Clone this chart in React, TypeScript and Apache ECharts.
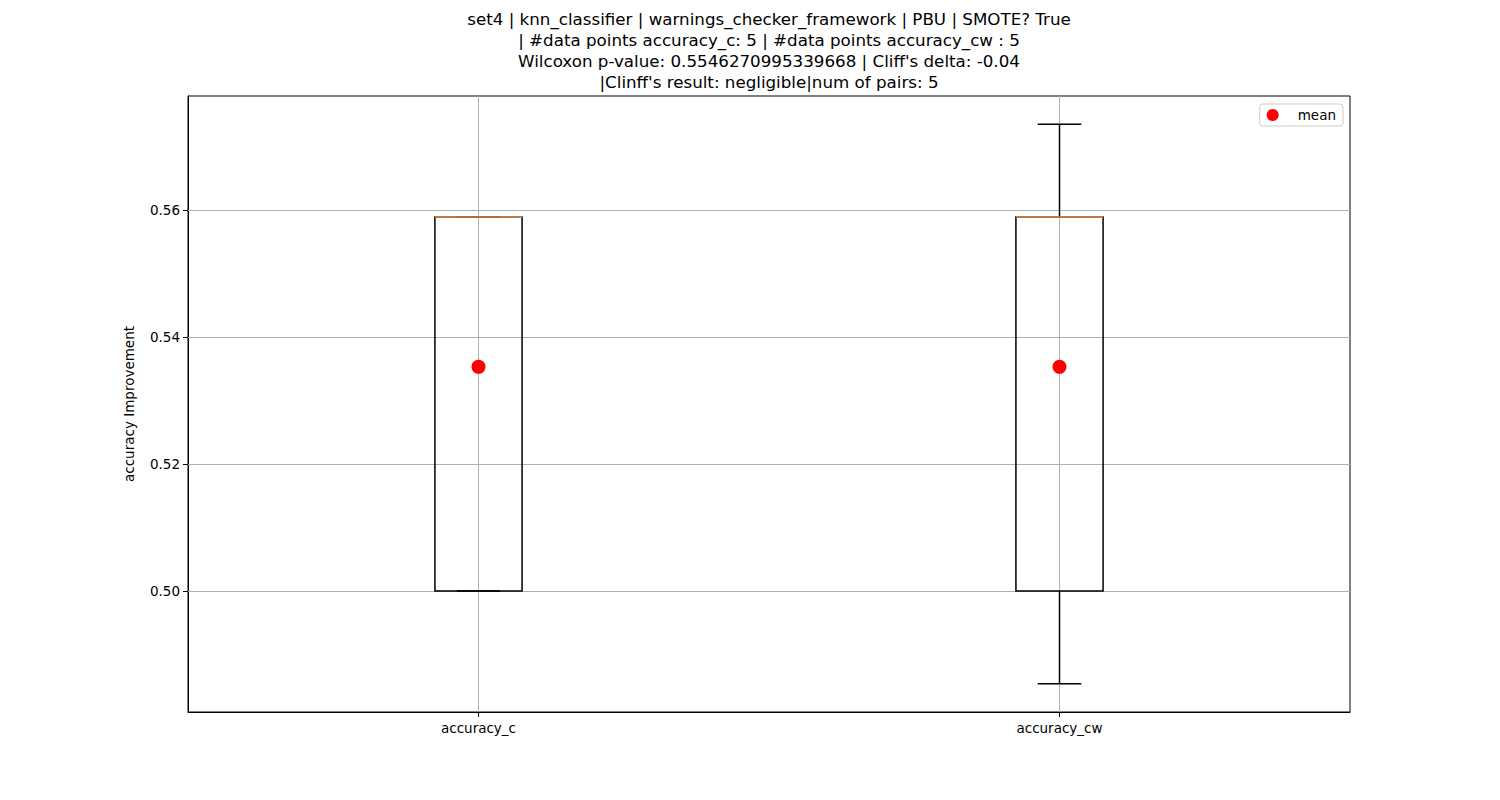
import React, { useEffect, useRef } from "react";
import * as echarts from "echarts";

const titleLines = [
  "set4 | knn_classifier | warnings_checker_framework | PBU | SMOTE? True",
  "| #data points accuracy_c: 5 | #data points accuracy_cw : 5",
  "Wilcoxon p-value: 0.5546270995339668 | Cliff's delta: -0.04",
  "|Clinff's result: negligible|num of pairs: 5",
];
const categories = ["accuracy_c", "accuracy_cw"];
const categoryPos = [1, 2];
// [whiskerLow, q1, median, q3, whiskerHigh]
const boxStats = [
  [0.5, 0.5, 0.5589, 0.5589, 0.5589],
  [0.4854, 0.5, 0.5589, 0.5589, 0.5735],
];
const means = [0.5353, 0.5353];
const yTicks = [0.5, 0.52, 0.54, 0.56];
const yMin = 0.48094;
const yMax = 0.57795;

export default function App() {
  const ref = useRef<HTMLDivElement>(null);
  useEffect(() => {
    document.body.style.margin = "0";
    const chart = echarts.init(ref.current!, null, { renderer: "svg" });
    const font = "DejaVu Sans";
    const option: any = {
      animation: false,
      backgroundColor: "#fff",
      textStyle: { fontFamily: font },
      graphic: [
        {
          type: "text",
          x: 769,
          y: 8,
          style: {
            text: titleLines.join("\n"),
            fontFamily: font,
            fontSize: 16.7,
            lineHeight: 21,
            fill: "#000",
            textAlign: "center",
          },
        },
      ],
      legend: {
        data: [{ name: "mean", icon: "circle" }],
        right: 157,
        top: 104,
        orient: "vertical",
        itemWidth: 12,
        itemHeight: 12,
        itemGap: 5,
        padding: [4, 7, 4, 7],
        borderColor: "#cccccc",
        borderWidth: 1,
        borderRadius: 3,
        textStyle: { fontFamily: font, fontSize: 13.5, color: "#000", padding: [0, 0, 0, 14] },
      },
      grid: {
        left: 188,
        top: 96,
        width: 1162,
        height: 616,
        show: true,
        borderColor: "#000",
        borderWidth: 1,
        backgroundColor: "transparent",
      },
      xAxis: {
        type: "value",
        min: 0.5,
        max: 2.5,
        splitLine: { show: false },
        axisLine: { show: true, lineStyle: { color: "#000" } },
        axisTick: { show: true, customValues: categoryPos, length: 5, lineStyle: { color: "#000" } },
        axisLabel: {
          customValues: categoryPos,
          formatter: (v: number) => categories[categoryPos.indexOf(v)] ?? "",
          color: "#000",
          fontFamily: font,
          fontSize: 13.5,
          margin: 9,
        },
      },
      yAxis: {
        type: "value",
        min: yMin,
        max: yMax,
        name: "accuracy Improvement",
        nameLocation: "middle",
        nameGap: 52,
        nameTextStyle: { color: "#000", fontFamily: font, fontSize: 13.5 },
        splitLine: { show: false },
        axisLine: { show: true, lineStyle: { color: "#000" } },
        axisTick: { show: true, customValues: yTicks, length: 5, lineStyle: { color: "#000" } },
        axisLabel: {
          customValues: yTicks,
          formatter: (v: number) => v.toFixed(2),
          color: "#000",
          fontFamily: font,
          fontSize: 13.5,
          margin: 8,
        },
      },
      series: [
        {
          type: "line",
          name: "grid",
          data: [],
          z: 1,
          silent: true,
          markLine: {
            silent: true,
            z: 1,
            symbol: "none",
            label: { show: false },
            lineStyle: { color: "#b0b0b0", width: 1, type: "solid" },
            data: [
              ...yTicks.map((v) => ({ yAxis: v })),
              ...categoryPos.map((v) => ({ xAxis: v })),
            ],
          },
        },
        {
          type: "custom",
          name: "box",
          z: 10,
          data: boxStats.map((s, i) => [categoryPos[i], ...s]),
          encode: { x: 0, y: [1, 2, 3, 4, 5] },
          renderItem: (params: any, api: any) => {
            const x = api.value(0);
            const lo = api.coord([x, api.value(1)]);
            const q1 = api.coord([x, api.value(2)]);
            const med = api.coord([x, api.value(3)]);
            const q3 = api.coord([x, api.value(4)]);
            const hi = api.coord([x, api.value(5)]);
            const left = api.coord([x - 0.075, 0])[0];
            const right = api.coord([x + 0.075, 0])[0];
            const cl = api.coord([x - 0.0375, 0])[0];
            const cr = api.coord([x + 0.0375, 0])[0];
            const cx = lo[0];
            const black = { stroke: "#000", lineWidth: 1.5, fill: "none" };
            return {
              type: "group",
              children: [
                { type: "line", shape: { x1: cx, y1: q1[1], x2: cx, y2: lo[1] }, style: black },
                { type: "line", shape: { x1: cx, y1: q3[1], x2: cx, y2: hi[1] }, style: black },
                { type: "line", shape: { x1: cl, y1: lo[1], x2: cr, y2: lo[1] }, style: black },
                { type: "line", shape: { x1: cl, y1: hi[1], x2: cr, y2: hi[1] }, style: black },
                {
                  type: "rect",
                  shape: { x: left, y: q3[1], width: right - left, height: q1[1] - q3[1] },
                  style: { stroke: "#000", lineWidth: 1.5, fill: "none" },
                },
                {
                  type: "line",
                  shape: { x1: left, y1: med[1], x2: right, y2: med[1] },
                  style: { stroke: "#ec8c4a", lineWidth: 1.5 },
                },
              ],
            };
          },
        },
        {
          type: "scatter",
          name: "mean",
          z: 12,
          symbol: "circle",
          symbolSize: 14,
          itemStyle: { color: "#ff0000", opacity: 1 },
          data: means.map((m, i) => [categoryPos[i], m]),
        },
      ],
    };
    chart.setOption(option);
    return () => chart.dispose();
  }, []);
  return <div ref={ref} style={{ width: 1500, height: 800 }} />;
}
